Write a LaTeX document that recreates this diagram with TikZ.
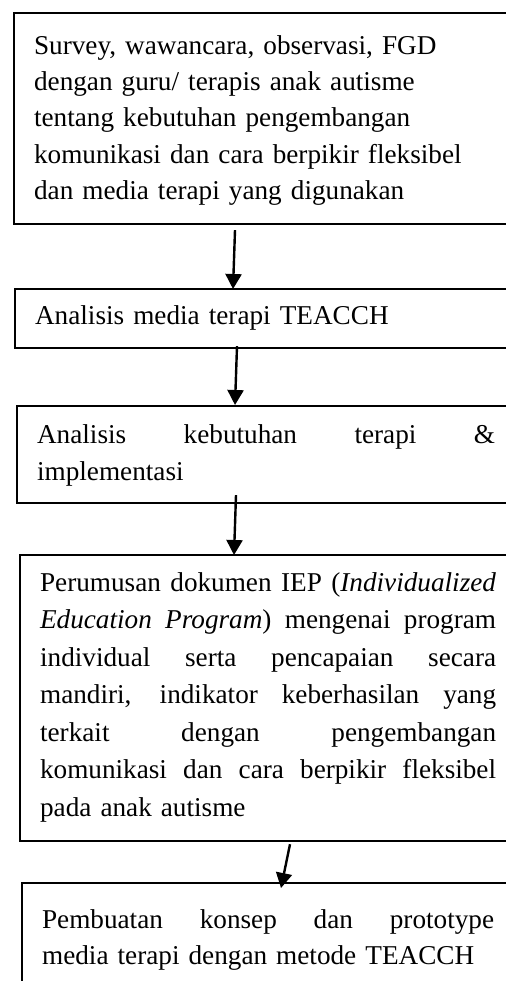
\documentclass[tikz,border=0pt]{standalone}
\usepackage{fontspec}
\setmainfont{Liberation Serif}
\usepackage{tikz}
\usetikzlibrary{arrows.meta}
\newcommand{\jline}[1]{\noindent\hbox to \hsize{\spaceskip=0.25em plus 1fil minus 0.1em #1}}
\tikzset{%
  stepbox/.style={draw, line width=1.1pt, anchor=north west, inner xsep=10pt, inner ysep=0pt, align=left, font=\fontsize{13.6}{18.5}\selectfont},%
  arr/.style={-{Triangle[width=8pt,length=7.5pt]}, line width=1.2pt}%
}
\begin{document}
\begin{tikzpicture}[x=0.5pt, y=-0.5pt]%
\useasboundingbox (0,0) rectangle (505,981);%
\node[stepbox, text width=228pt, text height=20.5pt, text depth=85pt, font=\fontsize{13.6}{18.15}\selectfont] (survey) at (13,12) {Survey, wawancara, observasi, FGD\\ dengan guru/ terapis anak autisme\\ tentang kebutuhan pengembangan\\ komunikasi dan cara berpikir fleksibel\\ dan media terapi yang digunakan};%
\node[stepbox, text width=228pt, text height=17.5pt, text depth=12pt] (teacch) at (14,288) {Analisis media terapi TEACCH};%
\node[stepbox, text width=229pt, text height=18.5pt, text depth=30pt] (needs) at (16,405) {\jline{Analisis kebutuhan terapi \&}\\ implementasi};%
\node[stepbox, text width=228pt, text height=18pt, text depth=125pt, font=\fontsize{13.6}{18.75}\selectfont] (iep) at (19,554) {\jline{Perumusan dokumen IEP (\textit{Individualized}}\\ \jline{\textit{Education Program}) mengenai program}\\ \jline{individual serta pencapaian secara}\\ \jline{mandiri, indikator keberhasilan yang}\\ \jline{terkait dengan pengembangan}\\ \jline{komunikasi dan cara berpikir fleksibel}\\ pada anak autisme};%
\node[stepbox, text width=226pt, text height=22.5pt, text depth=41.5pt, font=\fontsize{13.6}{18}\selectfont] (proto) at (21,882) {\jline{Pembuatan konsep dan prototype}\\ media terapi dengan metode TEACCH};%
\draw[arr] ([shift={(222,5)}]survey.south west) -- ([shift={(219,1)}]teacch.north west);%
\draw[arr] ([shift={(223,-3)}]teacch.south west) -- ([shift={(219,0)}]needs.north west);%
\draw[arr] ([shift={(220,-9)}]needs.south west) -- ([shift={(215,1)}]iep.north west);%
\draw[arr] ([shift={(271,2)}]iep.south west) -- ([shift={(260,6)}]proto.north west);%
\end{tikzpicture}
\end{document}
